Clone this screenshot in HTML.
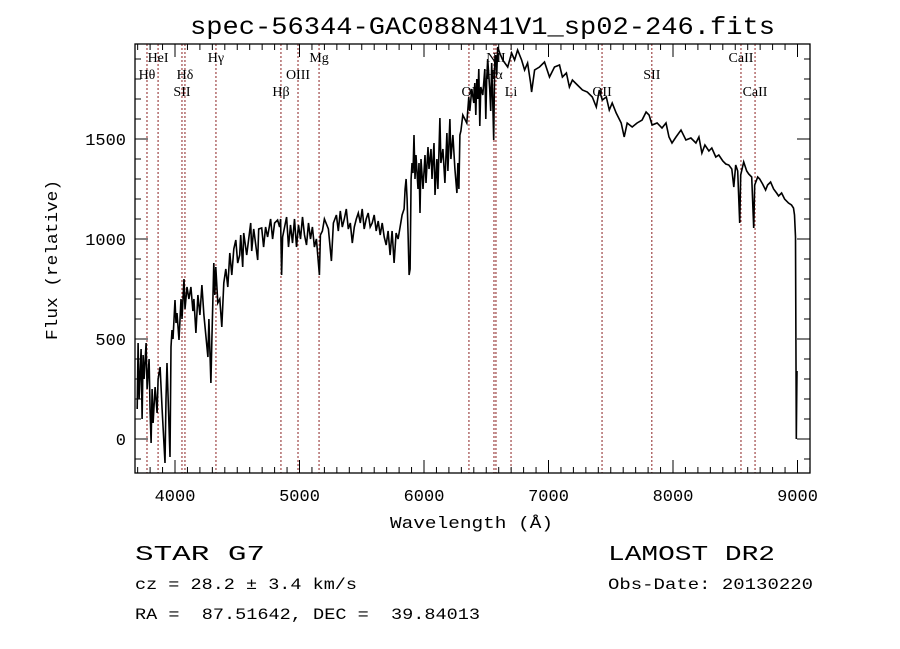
<!DOCTYPE html>
<html><head><meta charset="utf-8"><style>
html,body{margin:0;padding:0;background:#fff;}
svg{display:block;}
text{font-family:"Liberation Mono",monospace;fill:#000;}
.lbl{font-family:"Liberation Serif",serif;font-size:14px;}
</style></head><body>
<svg id="chart" width="900" height="649" viewBox="0 0 900 649" xmlns="http://www.w3.org/2000/svg">
<rect width="900" height="649" fill="#fff"/>
<text x="190" y="34" font-size="25" textLength="585" lengthAdjust="spacingAndGlyphs">spec-56344-GAC088N41V1_sp02-246.fits</text>
<g id="lines"></g>
<g id="ticks"></g>
<path id="spec" fill="none" stroke="#000" stroke-width="1.6" stroke-linejoin="miter"/>
<rect x="135" y="44" width="675" height="429" fill="none" stroke="#000" stroke-width="1.3"/>
<text x="390" y="528" font-size="17" textLength="163" lengthAdjust="spacingAndGlyphs">Wavelength (Å)</text>
<text transform="translate(57,340) rotate(-90)" font-size="17" textLength="160" lengthAdjust="spacingAndGlyphs">Flux (relative)</text>
<text x="135" y="560" font-size="21" textLength="130" lengthAdjust="spacingAndGlyphs">STAR   G7</text>
<text x="608" y="560" font-size="21" textLength="167" lengthAdjust="spacingAndGlyphs">LAMOST DR2</text>
<text x="135" y="589" font-size="16" textLength="222" lengthAdjust="spacingAndGlyphs">cz = 28.2 ± 3.4 km/s</text>
<text x="608" y="589" font-size="16" textLength="205" lengthAdjust="spacingAndGlyphs">Obs-Date: 20130220</text>
<text x="135" y="619" font-size="16" textLength="345" lengthAdjust="spacingAndGlyphs" xml:space="preserve">RA =  87.51642, DEC =  39.84013</text>
</svg>
<script>
const wavelengths=[3696,3704,3712,3728,3736,3744,3752,3768,3776,3792,3800,3808,3816,3824,3840,3856,3864,3880,3896,3920,3928,3936,3960,3968,3976,3984,4000,4008,4016,4032,4048,4056,4072,4080,4096,4112,4128,4144,4152,4168,4184,4200,4216,4232,4264,4272,4288,4296,4312,4320,4328,4344,4360,4376,4392,4408,4424,4440,4456,4472,4488,4504,4520,4528,4544,4552,4576,4592,4608,4616,4632,4664,4672,4696,4712,4728,4744,4768,4784,4800,4824,4840,4848,4856,4864,4880,4896,4912,4928,4944,4960,4976,4992,5008,5024,5040,5056,5072,5088,5104,5120,5136,5160,5168,5184,5200,5232,5256,5272,5296,5312,5328,5344,5360,5376,5392,5408,5424,5440,5456,5472,5488,5504,5520,5536,5552,5568,5584,5600,5616,5632,5648,5664,5680,5696,5712,5728,5744,5760,5776,5792,5808,5824,5840,5848,5856,5864,5872,5880,5888,5896,5904,5912,5920,5928,5936,5952,5960,5968,5976,5992,6008,6016,6032,6040,6056,6064,6080,6088,6104,6112,6128,6136,6152,6168,6184,6192,6208,6216,6232,6248,6264,6272,6280,6288,6296,6312,6328,6344,6360,6368,6384,6400,6408,6416,6424,6432,6440,6448,6456,6472,6488,6496,6504,6512,6528,6536,6544,6552,6560,6568,6576,6584,6592,6608,6632,6672,6704,6728,6752,6784,6808,6832,6856,6864,6888,6928,6968,7008,7048,7088,7112,7144,7168,7192,7232,7272,7312,7352,7384,7408,7432,7464,7488,7512,7544,7584,7608,7632,7672,7712,7752,7784,7808,7832,7872,7912,7944,7968,7992,8024,8064,8104,8144,8184,8208,8232,8256,8288,8312,8344,8368,8400,8424,8448,8472,8488,8504,8520,8536,8544,8568,8592,8608,8632,8648,8656,8680,8696,8720,8744,8760,8784,8808,8832,8848,8872,8896,8928,8952,8968,8976,8984,8990,8994,8996];
const fluxValues=[150,480,200,450,100,420,300,480,250,400,140,-20,250,80,260,130,300,360,150,-120,200,380,-90,460,545,500,695,580,630,495,700,600,800,650,760,700,760,640,700,530,720,620,770,620,410,600,280,500,880,720,860,680,700,560,780,850,760,930,820,950,995,880,920,1020,860,1030,920,1000,1080,940,1050,895,1050,1055,960,1060,1010,1100,1000,1080,1095,1060,1100,820,1010,1060,1110,960,1070,980,1100,960,1070,1000,1110,1020,970,1080,1000,1060,960,1000,820,1020,1040,1100,1050,890,1080,1120,1040,1140,1060,1100,1150,1050,1080,980,1060,1100,1130,1080,1150,1050,1100,1130,1060,1080,1120,1040,1090,1020,1080,1010,970,1040,920,1040,880,1030,1000,1060,1120,1150,1250,1300,1200,1020,820,850,1300,1380,1330,1520,1300,1420,1250,1380,1130,1400,1250,1420,1280,1460,1350,1450,1300,1480,1220,1400,1250,1605,1380,1450,1280,1530,1340,1600,1400,1520,1350,1230,1380,1250,1520,1540,1620,1600,1580,1710,1640,1750,1680,1780,1620,1800,1700,1850,1565,1760,1720,1850,1600,1800,1900,1750,1640,1880,1700,1495,1880,1920,1820,1960,1930,1895,1860,1930,1895,1945,1895,1845,1880,1780,1735,1845,1860,1885,1810,1860,1870,1810,1830,1760,1795,1770,1745,1735,1710,1660,1745,1695,1710,1645,1680,1630,1580,1510,1580,1560,1580,1595,1635,1620,1570,1580,1555,1580,1510,1480,1510,1545,1495,1505,1480,1510,1430,1470,1440,1455,1410,1420,1390,1375,1370,1350,1260,1370,1340,1080,1320,1385,1340,1325,1310,1055,1270,1310,1300,1275,1245,1270,1285,1250,1230,1215,1230,1200,1180,1170,1155,1120,1010,0,250,340];
const xTickValues=[4000,5000,6000,7000,8000,9000];
const yTickValues=[0,500,1000,1500];
const lineNames=["Hθ","HeI","SII","Hδ","Hγ","Hβ","OIII","Mg","OI","Hα","NII","Li","OII","SII","CaII","CaII"];
const lineWaves=[3775,3864,4056,4080,4329,4851,4988,5157,6361,6562,6578,6699,7430,7830,8546,8659];
const lineRows=[2,1,3,2,1,3,2,1,3,2,1,3,3,2,1,3];

const L=135,R=810,T=44,B=473;
function xs(w){return 424+(w-6000)*0.1245;}
function ys(f){return 439-(f/5);}
const NS='http://www.w3.org/2000/svg';
function mk(tag,attrs,parent){const e=document.createElementNS(NS,tag);for(const k in attrs)e.setAttribute(k,attrs[k]);parent.appendChild(e);return e;}

let d='';
for(let i=0;i<wavelengths.length;i++){d+=(i?'L':'M')+xs(wavelengths[i]).toFixed(1)+' '+Math.max(T,Math.min(B,ys(fluxValues[i]))).toFixed(1);}
document.getElementById('spec').setAttribute('d',d);

const lg=document.getElementById('lines');
const rowY=[0,62,79,96];
for(let i=0;i<lineNames.length;i++){
  const x=xs(lineWaves[i]);
  const ln=mk('line',{x1:x,x2:x,y1:T,y2:B,stroke:'#8b2020','stroke-width':1,'stroke-dasharray':'2,2'},lg);
  
  
  const t=mk('text',{x:x,y:rowY[lineRows[i]],'text-anchor':'middle',class:'lbl'},lg);
  t.textContent=lineNames[i];
  
  
}

const tg=document.getElementById('ticks');
for(let w=3700;w<=9100;w+=100){
  const x=xs(w); if(x<L||x>R) continue;
  const major=(w%1000===0), len=major?13:6;
  const a=mk('line',{x1:x,x2:x,y1:B,y2:B-len,stroke:'#000','stroke-width':1},tg);
  
  
  const b=mk('line',{x1:x,x2:x,y1:T,y2:T+len,stroke:'#000','stroke-width':1},tg);
  
  
}
for(let f=-100;f<=1900;f+=100){
  const y=ys(f); if(y<T||y>B) continue;
  const major=(f%500===0), len=major?13:6;
  const a=mk('line',{x1:L,x2:L+len,y1:y,y2:y,stroke:'#000','stroke-width':1},tg);
  
  
  const b=mk('line',{x1:R,x2:R-len,y1:y,y2:y,stroke:'#000','stroke-width':1},tg);
  
  
}
xTickValues.forEach(v=>{
  const t=mk('text',{x:xs(v),y:501,'text-anchor':'middle','font-size':17},tg);
  t.textContent=v;
  
  
});
yTickValues.forEach(v=>{
  const t=mk('text',{x:126,y:ys(v)+6,'text-anchor':'end','font-size':17},tg);
  t.textContent=v;
  
  
});
</script>
</body></html>
